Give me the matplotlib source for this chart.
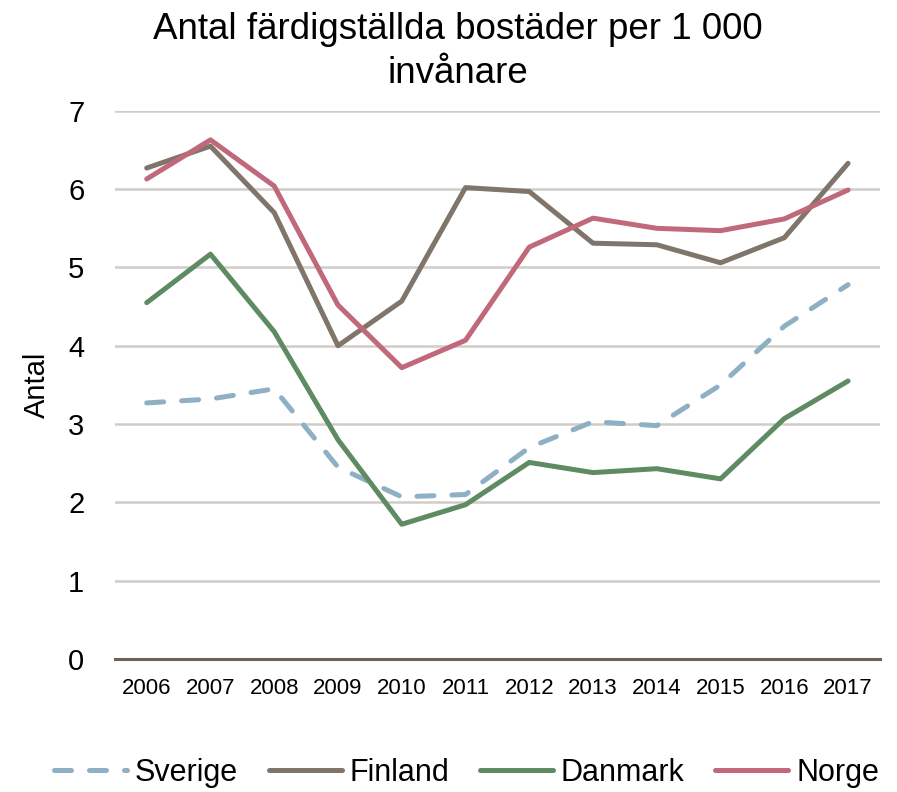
import matplotlib
matplotlib.use('Agg')
import matplotlib.pyplot as plt
import numpy as np

years = ['2006', '2007', '2008', '2009', '2010', '2011',
         '2012', '2013', '2014', '2015', '2016', '2017']
sverige = [3.27, 3.32, 3.45, 2.45, 2.07, 2.10, 2.70, 3.03, 2.98, 3.50, 4.25, 4.78]
finland = [6.27, 6.55, 5.70, 4.00, 4.57, 6.02, 5.97, 5.31, 5.29, 5.06, 5.38, 6.33]
danmark = [4.55, 5.17, 4.18, 2.80, 1.72, 1.97, 2.51, 2.38, 2.43, 2.30, 3.07, 3.55]
norge = [6.13, 6.63, 6.04, 4.52, 3.72, 4.07, 5.26, 5.63, 5.50, 5.47, 5.62, 5.99]

plt.rcParams['font.family'] = ['Liberation Sans', 'DejaVu Sans']

fig = plt.figure(figsize=(8.97, 7.92), dpi=100)
ax = fig.add_axes([0.128, 0.168, 0.853, 0.692])

x = np.arange(len(years))
lw = 3.6
ax.plot(x, sverige, color='#8fb0c4', lw=lw, linestyle=(0, (3.4, 3.6)),
        dash_capstyle='round', solid_capstyle='round', label='Sverige', zorder=3)
ax.plot(x, finland, color='#7f756b', lw=lw, solid_capstyle='round', label='Finland', zorder=3)
ax.plot(x, danmark, color='#5f8b63', lw=lw, solid_capstyle='round', label='Danmark', zorder=3)
ax.plot(x, norge, color='#c0697b', lw=lw, solid_capstyle='round', label='Norge', zorder=3)

ax.set_xlim(-0.5, len(years) - 0.5)
ax.set_ylim(0, 7)
ax.set_yticks(range(0, 8))
ax.set_xticks(x)
ax.set_xticklabels(years, fontsize=16)
ax.tick_params(axis='y', labelsize=21, length=0, pad=22)
ax.tick_params(axis='x', length=0, pad=14)

ax.grid(axis='y', color='#d0ccc8', lw=1.8)
ax.set_axisbelow(True)
for s in ['top', 'right', 'left']:
    ax.spines[s].set_visible(False)
ax.spines['bottom'].set_color('#6b625b')
ax.spines['bottom'].set_linewidth(2.2)

ax.set_ylabel('Antal', fontsize=21, labelpad=12)
fig.text(0.51, 0.985, 'Antal färdigställda bostäder per 1 000\ninvånare',
         ha='center', va='top', fontsize=26.5, linespacing=1.32)

fig.legend(loc='center', bbox_to_anchor=(0.52, 0.024), ncol=4, frameon=False,
           fontsize=22, handlelength=2.4, handletextpad=0.25, columnspacing=1.0)

fig.savefig('out.png', dpi=100)
